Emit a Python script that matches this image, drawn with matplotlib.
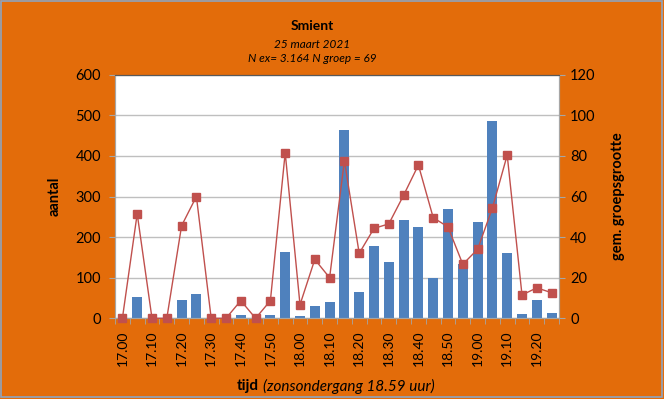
import matplotlib
matplotlib.use('Agg')
from matplotlib import pyplot as plt
import numpy as np

# tijdvakken van 5 minuten, 17.00 - 19.25
tijden = ['17.00', '17.05', '17.10', '17.15', '17.20', '17.25', '17.30', '17.35',
          '17.40', '17.45', '17.50', '17.55', '18.00', '18.05', '18.10', '18.15',
          '18.20', '18.25', '18.30', '18.35', '18.40', '18.45', '18.50', '18.55',
          '19.00', '19.05', '19.10', '19.15', '19.20', '19.25']

aantal = [0, 52, 0, 0, 45, 60, 0, 0, 8, 0, 8, 163, 5, 30, 40, 463,
          65, 178, 139, 242, 225, 99, 269, 134, 237, 486, 161, 11, 45, 13]

groepsgrootte = [0, 51.5, 0, 0, 45.6, 60, 0, 0, 8.7, 0, 8.7, 81.6, 6.7, 29, 20, 77.6,
                 32, 44.3, 46.5, 60.6, 75.5, 49.6, 45, 26.6, 34, 54.3, 80.4, 11.5, 15, 12.6]

ORANJE = '#E36C0A'
BLAUW = '#4F81BD'
ROOD = '#C0504D'
GRIJS = '#A6A6A6'

plt.rcParams['font.family'] = ['Lato', 'DejaVu Sans']

fig = plt.figure(figsize=(6.64, 3.99), dpi=100, facecolor=ORANJE)
# rand om de grafiek
fig.patches.append(plt.Rectangle((0.001, 0.004), 0.996, 0.994, transform=fig.transFigure,
                                 fill=False, edgecolor='#8EA4BF', linewidth=1.2))

ax = fig.add_axes([115 / 664, 1 - 318.3 / 399, 444 / 664, 243.6 / 399])
ax.set_facecolor('white')

x = np.arange(len(tijden))
ax.bar(x, aantal, width=0.68, color=BLAUW, zorder=2)
ax.set_ylim(0, 600)
ax.set_yticks(range(0, 601, 100))
ax.set_xlim(-0.5, len(tijden) - 0.5)
ax.yaxis.grid(True, color='#BFBFBF', linewidth=1, zorder=0)
ax.set_axisbelow(True)

ax.set_xticks(x[::2])
ax.set_xticklabels(tijden[::2], rotation=90, fontsize=10)
ax.set_xticks(np.arange(-0.5, len(tijden), 1), minor=True)
ax.tick_params(axis='x', which='major', length=0, pad=9)
ax.tick_params(axis='x', which='minor', length=4, color=GRIJS, direction='out')
ax.tick_params(axis='y', length=4, color=GRIJS, labelsize=10.5, pad=6)

for s in ['left', 'bottom', 'right']:
    ax.spines[s].set_color(GRIJS)
ax.spines['top'].set_color('#595959')

ax2 = ax.twinx()
ax2.plot(x, groepsgrootte, color=ROOD, linewidth=1, marker='s', markersize=5.5,
         markerfacecolor=ROOD, markeredgecolor=ROOD, zorder=3, clip_on=False)
ax2.set_ylim(0, 120)
ax2.set_yticks(range(0, 121, 20))
ax2.tick_params(axis='y', length=4, color=GRIJS, labelsize=10.5, pad=4)
for s in ['left', 'bottom', 'right']:
    ax2.spines[s].set_color(GRIJS)
ax2.spines['top'].set_color('#595959')

ax.set_ylabel('aantal', fontsize=10.5, fontweight='bold', labelpad=10)
ax2.set_ylabel('gem. groepsgrootte', fontsize=10.5, fontweight='bold', labelpad=11)

tx = 312 / 664
fig.text(tx, 1 - 25.5 / 399, 'Smient', ha='center', va='center', fontsize=10, fontweight='bold')
fig.text(tx, 1 - 44 / 399, '25 maart 2021', ha='center', va='center', fontsize=8.5, style='italic')
fig.text(tx, 1 - 58 / 399, 'N ex= 3.164 N groep = 69', ha='center', va='center', fontsize=8.5, style='italic')

fig.text(237 / 664, 1 - 386 / 399, 'tijd', ha='left', va='center', fontsize=11, fontweight='bold')
fig.text(263 / 664, 1 - 386 / 399, '(zonsondergang 18.59 uur)', ha='left', va='center', fontsize=11, style='italic')

fig.savefig('out.png', dpi=100, facecolor=ORANJE)
